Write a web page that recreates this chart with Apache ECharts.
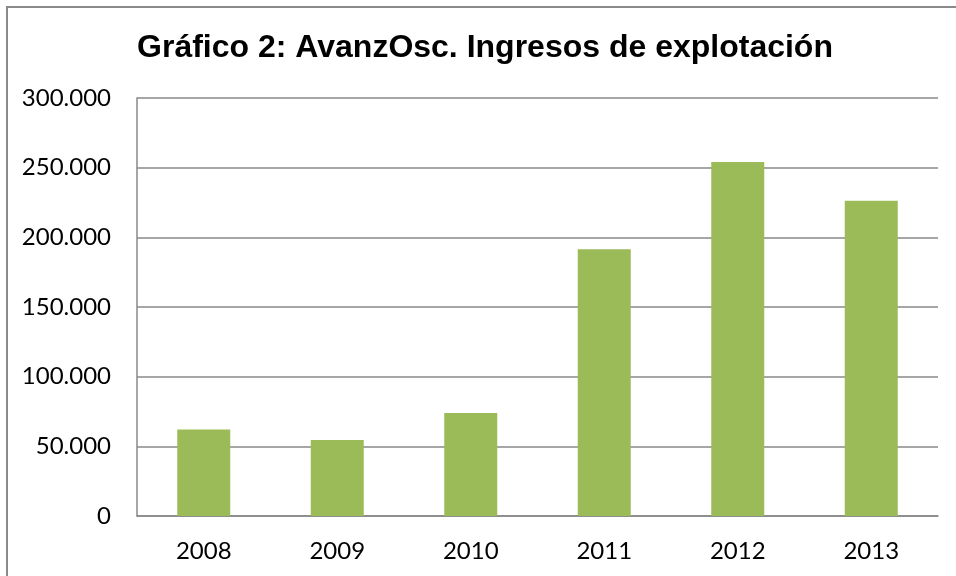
<!DOCTYPE html>
<html>
<head>
<meta charset="utf-8">
<script src="https://cdn.jsdelivr.net/npm/echarts@6/dist/echarts.min.js"></script>
<style>
  html, body { margin: 0; padding: 0; background: #fff; }
  #main { width: 956px; height: 576px; }
</style>
</head>
<body>
<div id="main"></div>
<script>
'use strict';

// years on the x axis
const years = ['2008', '2009', '2010', '2011', '2012', '2013'];
// ingresos de explotación
const ingresos = [62000, 54500, 74000, 191500, 254000, 226300];
// y axis ticks
const yMin = 0;
const yMax = 300000;
const yStep = 50000;

function fmtMiles(v) {
    return String(v).replace(/\B(?=(\d{3})+(?!\d))/g, '.');
}

window.onload = function () {
    let mChart = echarts.init(document.getElementById('main'));

    let options = {
        animation: false,
        title: {
            text: 'Gráfico 2: AvanzOsc. Ingresos de explotación',
            left: 480,
            top: 27,
            textAlign: 'center',
            textStyle: {
                fontFamily: 'Liberation Sans',
                fontWeight: 'bold',
                fontSize: 32,
                color: '#000'
            }
        },
        graphic: [{
            type: 'rect',
            shape: { x: 7, y: 7, width: 980, height: 600 },
            style: { fill: 'none', stroke: '#8a8a8a', lineWidth: 2 },
            silent: true
        }],
        grid: {
            left: 137,
            right: 18,
            top: 98,
            bottom: 60
        },
        xAxis: {
            type: 'category',
            data: years,
            axisLine: { lineStyle: { color: '#888', width: 1.5 } },
            axisTick: { show: false },
            axisLabel: {
                margin: 23,
                fontFamily: 'Lato',
                fontSize: 24,
                color: '#000'
            }
        },
        yAxis: {
            type: 'value',
            min: yMin,
            max: yMax,
            interval: yStep,
            axisLine: { show: true, lineStyle: { color: '#888', width: 1.5 } },
            axisTick: { show: false },
            splitLine: { lineStyle: { color: '#888', width: 1.5 } },
            axisLabel: {
                margin: 26,
                fontFamily: 'Lato',
                fontSize: 24,
                color: '#000',
                formatter: fmtMiles
            }
        },
        series: [{
            type: 'bar',
            data: ingresos,
            barWidth: 53,
            itemStyle: { color: '#9bbb59' }
        }]
    };

    mChart.setOption(options, true);
};
</script>
</body>
</html>
